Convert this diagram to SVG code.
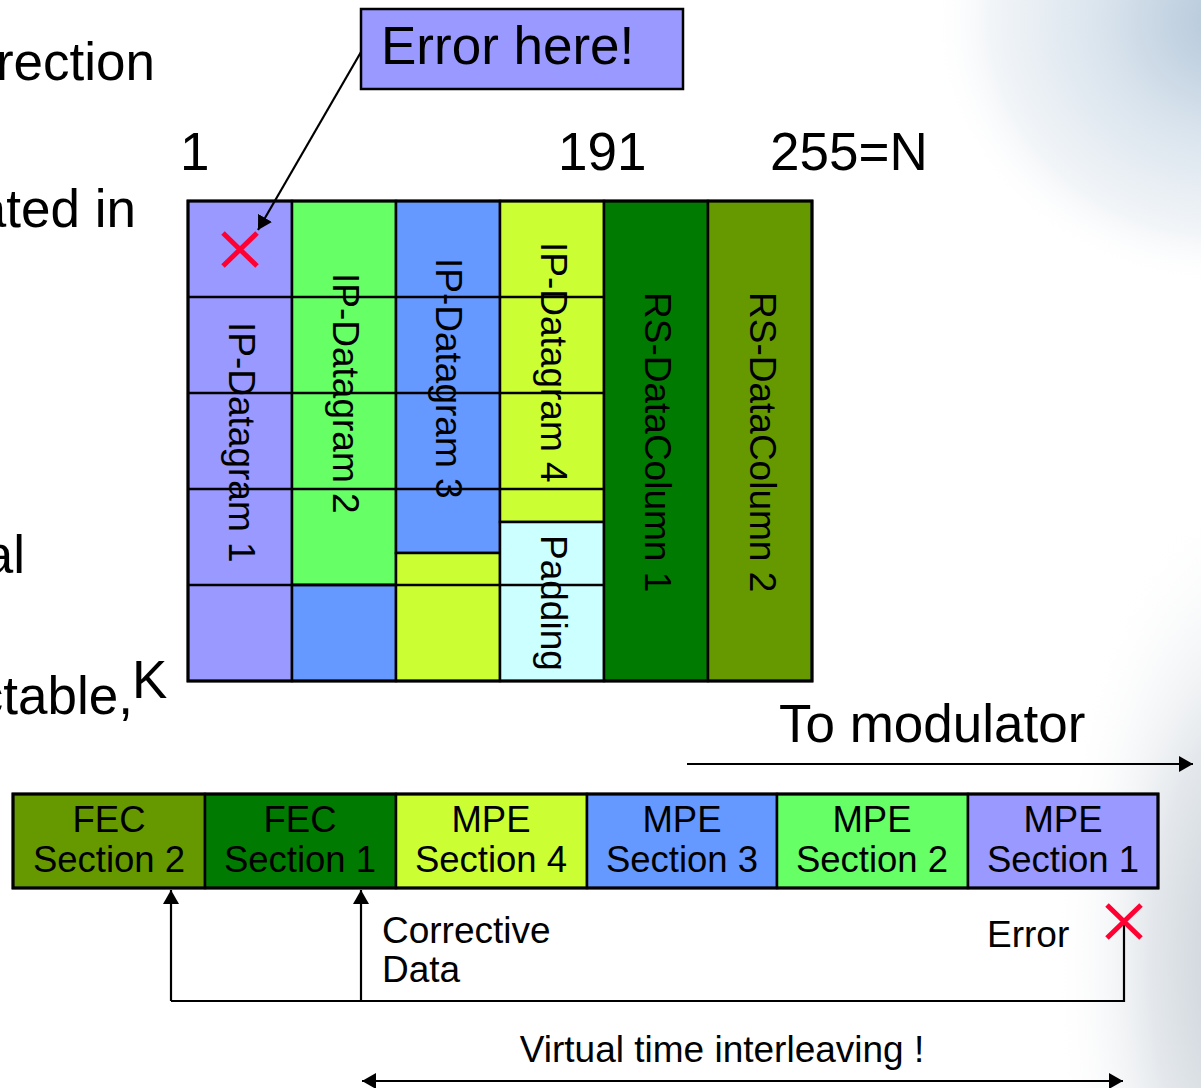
<svg xmlns="http://www.w3.org/2000/svg" width="1201" height="1088" viewBox="0 0 1201 1088">
  <defs>
    <style>
      text { font-family: "Liberation Sans", Arial, sans-serif; fill: #000; }
      .big { font-size: 53px; }
      .vert { font-size: 37px; }
      .sec { font-size: 36.5px; text-anchor: middle; }
      .lbl { font-size: 37px; }
      .cell { stroke: #000; stroke-width: 2.5; }
      .grid { stroke: #000; stroke-width: 2.5; fill: none; }
      .frame { fill: none; stroke: #000; stroke-width: 3; }
      .conn { stroke: #000; stroke-width: 2.2; fill: none; }
      .xmark { stroke: #FF0033; stroke-width: 5; fill: none; }
    </style>
    <marker id="ah" viewBox="0 0 14 16" refX="14" refY="8" markerWidth="14" markerHeight="16" markerUnits="userSpaceOnUse" orient="auto-start-reverse">
      <path d="M0,0 L14,8 L0,16 z" fill="#000"/>
    </marker>
    <radialGradient id="bgTR" gradientUnits="userSpaceOnUse" cx="1230" cy="20" r="300" gradientTransform="translate(1230,20) scale(1,0.9) rotate(35) translate(-1230,-20)">
      <stop offset="0" stop-color="#b3c6d9"/>
      <stop offset="0.45" stop-color="#dbe5ee"/>
      <stop offset="0.8" stop-color="#f2f5f8"/>
      <stop offset="1" stop-color="#ffffff" stop-opacity="0"/>
    </radialGradient>
    <radialGradient id="bgBR" gradientUnits="userSpaceOnUse" cx="1250" cy="960" r="200" gradientTransform="translate(1250,960) scale(1,2.4) translate(-1250,-960)">
      <stop offset="0" stop-color="#c4ccd4"/>
      <stop offset="0.5" stop-color="#e4e8ec"/>
      <stop offset="1" stop-color="#ffffff" stop-opacity="0"/>
    </radialGradient>
  </defs>

  <g id="background">
    <rect x="0" y="0" width="1201" height="1088" fill="#ffffff"/>
    <rect x="0" y="0" width="1201" height="1088" fill="url(#bgTR)"/>
    <rect x="0" y="0" width="1201" height="1088" fill="url(#bgBR)"/>
  </g>

  <g id="left-text">
    <text class="big" x="155" y="80" text-anchor="end">rection</text>
    <text class="big" x="136" y="227" text-anchor="end">ated in</text>
    <text class="big" x="25" y="573" text-anchor="end">al</text>
    <text class="big" x="133" y="714" text-anchor="end">ctable,</text>
    <text class="big" x="132" y="698">K</text>
  </g>

  <g id="column-labels">
    <text class="big" x="180" y="170">1</text>
    <text class="big" x="558" y="170">191</text>
    <text class="big" x="770" y="170">255=N</text>
  </g>

  <g id="callout">
    <rect x="361" y="9" width="322" height="80" fill="#9999FF" stroke="#000" stroke-width="2.5"/>
    <text x="381" y="64" style="font-size:53px">Error here!</text>
  </g>

  <g id="matrix">
    <g id="col1">
      <rect class="cell" x="188" y="201" width="104" height="480" fill="#9999FF"/>
      <text class="vert" transform="translate(229,322) rotate(90)">IP-Datagram 1</text>
    </g>
    <g id="col2">
      <rect class="cell" x="292" y="201" width="104" height="384" fill="#66FF66"/>
      <rect class="cell" x="292" y="585" width="104" height="96" fill="#6699FF"/>
      <text class="vert" transform="translate(333,273) rotate(90)">IP-Datagram 2</text>
    </g>
    <g id="col3">
      <rect class="cell" x="396" y="201" width="104" height="352" fill="#6699FF"/>
      <rect class="cell" x="396" y="553" width="104" height="128" fill="#CCFF33"/>
      <text class="vert" transform="translate(436,258) rotate(90)">IP-Datagram 3</text>
    </g>
    <g id="col4">
      <rect class="cell" x="500" y="201" width="104" height="321" fill="#CCFF33"/>
      <rect class="cell" x="500" y="522" width="104" height="159" fill="#CCFFFF"/>
      <text class="vert" transform="translate(541,242) rotate(90)">IP-Datagram 4</text>
      <text class="vert" transform="translate(541,535) rotate(90)">Padding</text>
    </g>
    <g id="col5">
      <rect class="cell" x="604" y="201" width="104" height="480" fill="#007A00"/>
      <text class="vert" transform="translate(645,292) rotate(90)">RS-DataColumn 1</text>
    </g>
    <g id="col6">
      <rect class="cell" x="708" y="201" width="104" height="480" fill="#669900"/>
      <text class="vert" transform="translate(750,292) rotate(90)">RS-DataColumn 2</text>
    </g>
    <path class="grid" d="M188,297 H604 M188,393 H604 M188,489 H604 M188,585 H604"/>
    <rect class="frame" x="188" y="201" width="624" height="480"/>
    <g id="error-mark-matrix">
      <path class="xmark" d="M223,233 L257,266 M257,233 L223,266"/>
    </g>
  </g>

  <g id="to-modulator">
    <text class="big" x="779" y="742">To modulator</text>
  </g>

  <g id="section-row">
    <g id="fec2">
      <rect class="cell" x="13" y="794" width="192" height="94" fill="#669900"/>
      <text class="sec" x="109" y="832">FEC</text>
      <text class="sec" x="109" y="872">Section 2</text>
    </g>
    <g id="fec1">
      <rect class="cell" x="205" y="794" width="191" height="94" fill="#007A00"/>
      <text class="sec" x="300" y="832">FEC</text>
      <text class="sec" x="300" y="872">Section 1</text>
    </g>
    <g id="mpe4">
      <rect class="cell" x="396" y="794" width="191" height="94" fill="#CCFF33"/>
      <text class="sec" x="491" y="832">MPE</text>
      <text class="sec" x="491" y="872">Section 4</text>
    </g>
    <g id="mpe3">
      <rect class="cell" x="587" y="794" width="190" height="94" fill="#6699FF"/>
      <text class="sec" x="682" y="832">MPE</text>
      <text class="sec" x="682" y="872">Section 3</text>
    </g>
    <g id="mpe2">
      <rect class="cell" x="777" y="794" width="191" height="94" fill="#66FF66"/>
      <text class="sec" x="872" y="832">MPE</text>
      <text class="sec" x="872" y="872">Section 2</text>
    </g>
    <g id="mpe1">
      <rect class="cell" x="968" y="794" width="190" height="94" fill="#9999FF"/>
      <text class="sec" x="1063" y="832">MPE</text>
      <text class="sec" x="1063" y="872">Section 1</text>
    </g>
    <rect class="frame" x="13" y="794" width="1145" height="94"/>
  </g>

  <g id="bottom-labels">
    <text class="lbl" x="382" y="943">Corrective</text>
    <text class="lbl" x="382" y="982">Data</text>
    <text class="lbl" x="987" y="947">Error</text>
    <text class="lbl" x="722" y="1062" text-anchor="middle">Virtual time interleaving !</text>
  </g>

  <g id="connectors">
    <line class="conn" x1="361" y1="52" x2="258" y2="230" marker-end="url(#ah)"/>
    <line class="conn" x1="687" y1="764" x2="1193" y2="764" marker-end="url(#ah)"/>
    <path class="conn" d="M1124,922 V1001 H171"/>
    <line class="conn" x1="171" y1="1001" x2="171" y2="890" marker-end="url(#ah)"/>
    <line class="conn" x1="361" y1="1001" x2="361" y2="890" marker-end="url(#ah)"/>
    <line class="conn" x1="362" y1="1081" x2="1123" y2="1081" marker-start="url(#ah)" marker-end="url(#ah)"/>
  </g>

  <g id="error-mark-row">
    <path class="xmark" d="M1107,905 L1141,938 M1141,905 L1107,938"/>
  </g>
</svg>
